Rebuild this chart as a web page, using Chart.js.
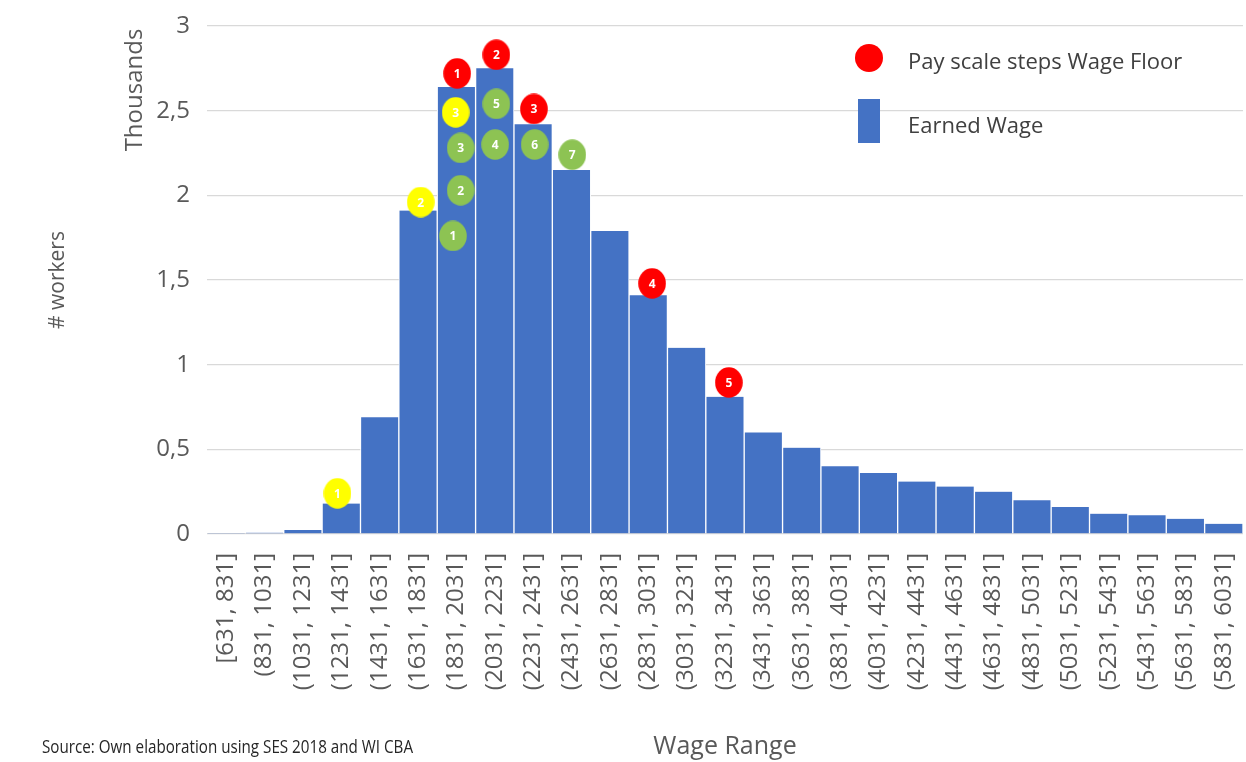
<!DOCTYPE html>
<html>
<head>
<meta charset="utf-8">
<script src="https://cdn.jsdelivr.net/npm/chart.js@4.4.1/dist/chart.umd.min.js"></script>
<style>
html,body{margin:0;padding:0;background:#ffffff;}
#wrap{width:1246px;height:762px;position:relative;}
</style>
</head>
<body>
<div id="wrap"><canvas id="c" width="1246" height="762"></canvas></div>
<script>
// ---- Data ----
const categories = ['[631, 831]','(831, 1031]','(1031, 1231]','(1231, 1431]','(1431, 1631]','(1631, 1831]','(1831, 2031]','(2031, 2231]','(2231, 2431]','(2431, 2631]','(2631, 2831]','(2831, 3031]','(3031, 3231]','(3231, 3431]','(3431, 3631]','(3631, 3831]','(3831, 4031]','(4031, 4231]','(4231, 4431]','(4431, 4631]','(4631, 4831]','(4831, 5031]','(5031, 5231]','(5231, 5431]','(5431, 5631]','(5631, 5831]','(5831, 6031]'];
const earnedWage = [0.003, 0.008, 0.024, 0.18, 0.69, 1.91, 2.64, 2.75, 2.42, 2.15, 1.79, 1.41, 1.10, 0.81, 0.60, 0.51, 0.40, 0.36, 0.31, 0.28, 0.25, 0.20, 0.16, 0.12, 0.11, 0.09, 0.06];
const yTickLabels = ['0', '0,5', '1', '1,5', '2', '2,5', '3'];

// Pay scale steps (wage floor) markers: x = category position, y = thousands
const redX = [6.02, 7.04, 8.02, 11.1, 13.1];
const redY = [2.72, 2.83, 2.51, 1.48, 0.895];
const redNum = ['1', '2', '3', '4', '5'];

const yellowX = [2.9, 5.07, 5.98];
const yellowY = [0.24, 1.96, 2.49];
const yellowNum = ['1', '2', '3'];

const greenX = [5.91, 6.11, 6.11, 7.01, 7.04, 8.04, 9.02];
const greenY = [1.76, 2.03, 2.28, 2.30, 2.54, 2.30, 2.24];
const greenNum = ['1', '2', '3', '4', '5', '6', '7'];

const seriesNames = ['Pay scale steps Wage Floor', 'Earned Wage'];
const colors = { bar: '#4472C4', red: '#FF0000', yellow: '#FFFF00', green: '#8DC353' };

// ---- Helpers ----
function ellipseStyle(color) {
  const c = document.createElement('canvas');
  c.width = 28; c.height = 31;
  const g = c.getContext('2d');
  g.fillStyle = color;
  g.beginPath();
  g.ellipse(14, 15.5, 13.8, 15.3, 0, 0, Math.PI * 2);
  g.fill();
  return c;
}
function pts(xs, ys) { return xs.map((x, i) => ({ x: x, y: ys[i] })); }

const FONT = '"Open Sans", "Noto Sans", "DejaVu Sans", sans-serif';
const GRAY = '#595959';

const extraText = {
  id: 'extraText',
  afterDatasetsDraw(chart) {
    const ctx = chart.ctx;
    ctx.save();
    chart.data.datasets.forEach((ds, di) => {
      if (!ds.numbers) return;
      const meta = chart.getDatasetMeta(di);
      meta.data.forEach((el, i) => {
        ctx.fillStyle = '#ffffff';
        ctx.font = 'bold 12px ' + FONT;
        ctx.textAlign = 'center';
        ctx.textBaseline = 'middle';
        ctx.fillText(ds.numbers[i], el.x, el.y + 1);
      });
    });
    ctx.restore();
  },
  afterDraw(chart) {
    const ctx = chart.ctx;
    ctx.save();
    ctx.translate(135, 90);
    ctx.rotate(-Math.PI / 2);
    ctx.fillStyle = GRAY;
    ctx.font = '24px ' + FONT;
    ctx.textAlign = 'center';
    ctx.textBaseline = 'middle';
    ctx.fillText('Thousands', 0, 0, 130);
    ctx.restore();

    ctx.save();
    ctx.fillStyle = '#262626';
    ctx.font = '18px ' + FONT;
    ctx.textAlign = 'left';
    ctx.textBaseline = 'middle';
    ctx.fillText('Source: Own elaboration using SES 2018 and WI CBA', 42, 748, 371);

    ctx.fillStyle = colors.red;
    ctx.beginPath();
    ctx.ellipse(869, 58, 14, 14, 0, 0, Math.PI * 2);
    ctx.fill();
    ctx.fillStyle = colors.bar;
    ctx.fillRect(858, 99, 22, 44);
    ctx.fillStyle = '#404040';
    ctx.font = '22px ' + FONT;
    ctx.textBaseline = 'middle';
    ctx.fillText(seriesNames[0], 908, 63, 285);
    ctx.fillText(seriesNames[1], 908, 127, 141);
    ctx.restore();
  }
};

new Chart(document.getElementById('c'), {
  type: 'bar',
  data: {
    labels: categories,
    datasets: [
      { type: 'scatter', label: seriesNames[0], data: pts(redX, redY), numbers: redNum,
        xAxisID: 'xm', yAxisID: 'y', pointStyle: ellipseStyle(colors.red), pointRadius: 14, clip: false, order: 1 },
      { type: 'scatter', label: 'Steps (yellow)', data: pts(yellowX, yellowY), numbers: yellowNum,
        xAxisID: 'xm', yAxisID: 'y', pointStyle: ellipseStyle(colors.yellow), pointRadius: 14, clip: false, order: 2 },
      { type: 'scatter', label: 'Steps (green)', data: pts(greenX, greenY), numbers: greenNum,
        xAxisID: 'xm', yAxisID: 'y', pointStyle: ellipseStyle(colors.green), pointRadius: 14, clip: false, order: 3 },
      { type: 'bar', label: seriesNames[1], data: earnedWage, xAxisID: 'x', yAxisID: 'y',
        backgroundColor: colors.bar, borderColor: '#ffffff',
        borderWidth: { left: 1, right: 1, top: 0, bottom: 0 }, borderSkipped: false,
        grouped: false, barPercentage: 1, categoryPercentage: 1, order: 10 }
    ]
  },
  options: {
    responsive: false,
    animation: false,
    devicePixelRatio: 1,
    layout: { autoPadding: false, padding: { left: 0, right: 3, top: 26, bottom: 0 } },
    plugins: { legend: { display: false }, tooltip: { enabled: false } },
    scales: {
      x: {
        type: 'category',
        offset: true,
        grid: { display: false, drawTicks: false },
        border: { display: false },
        ticks: { autoSkip: false, minRotation: 90, maxRotation: 90, padding: 19,
                 color: GRAY, font: { family: FONT, size: 24 } },
        title: { display: true, text: 'Wage Range', color: GRAY,
                 font: { family: FONT, size: 25 }, padding: { top: 0, bottom: 0 } },
        afterFit(s) { s.height = 228; s.paddingLeft = 0; s.paddingRight = 0; }
      },
      xm: { type: 'linear', display: false, offset: false, grid: { offset: false },
            bounds: 'data', min: -0.5, max: 26.5 },
      y: {
        min: 0, max: 3,
        grid: { color: '#d9d9d9', lineWidth: 1.3, drawTicks: false },
        border: { display: false },
        ticks: { stepSize: 0.5, padding: 17, color: GRAY, font: { family: FONT, size: 24 },
                 callback: (v, i) => yTickLabels[i] },
        title: { display: true, text: '# workers', color: GRAY,
                 font: { family: FONT, size: 21 }, padding: { top: 45, bottom: 0 } },
        afterFit(s) { s.width = 207; s.paddingTop = 0; s.paddingBottom = 0; }
      }
    }
  },
  plugins: [extraText]
});
</script>
</body>
</html>
